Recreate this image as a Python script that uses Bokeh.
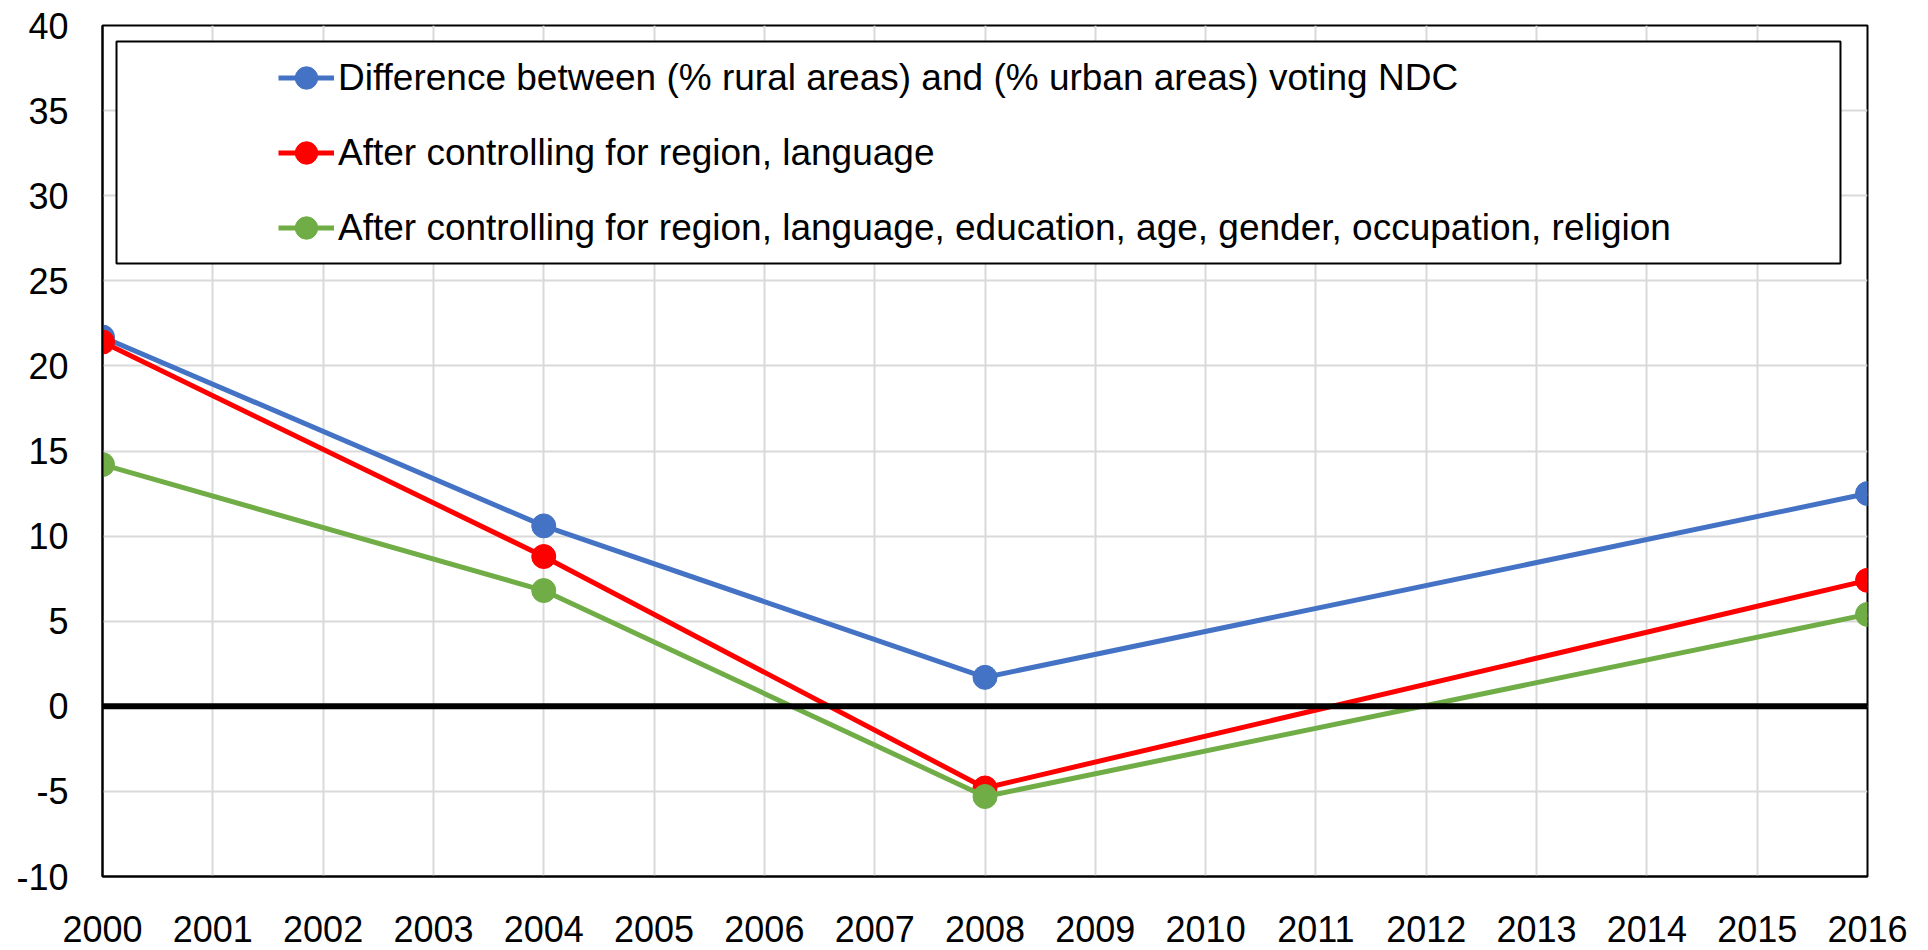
from bokeh.plotting import figure
from bokeh.models import (ColumnDataSource, Span, Legend, LegendItem, BoxAnnotation,
                          FixedTicker, Range1d, CustomJSTickFormatter)
from bokeh.embed import file_html
from bokeh.resources import INLINE

years = [2000, 2004, 2008, 2016]
rural_urban_diff = [21.7, 10.6, 1.7, 12.5]
ctrl_region_lang = [21.4, 8.8, -4.8, 7.4]
ctrl_full = [14.2, 6.8, -5.3, 5.4]

series_names = [
    "Difference between (% rural areas) and (% urban areas) voting NDC",
    "After controlling for region, language",
    "After controlling for region, language, education, age, gender, occupation, religion",
]
series_colors = ["#4472C4", "#FF0000", "#70AD47"]
x_ticks = list(range(2000, 2017))
y_ticks = list(range(-10, 45, 5))

FONT = "Liberation Sans"

p = figure(width=1912, height=950, output_backend="svg", toolbar_location=None,
           x_range=Range1d(2000, 2016), y_range=Range1d(-10, 40))
p.min_border_left = 102
p.min_border_right = 45
p.min_border_top = 25
p.min_border_bottom = 74
p.background_fill_color = "white"
p.border_fill_color = "white"
p.outline_line_color = "black"
p.outline_line_width = 2

for ax in (p.xaxis[0], p.yaxis[0]):
    ax.axis_line_color = "black"
    ax.axis_line_width = 2
    ax.major_tick_line_color = None
    ax.minor_tick_line_color = None
    ax.major_label_text_font = FONT
    ax.major_label_text_font_size = "36px"
    ax.major_label_text_color = "black"
    ax.formatter = CustomJSTickFormatter(code="return tick.toFixed(0);")

p.xaxis.ticker = FixedTicker(ticks=x_ticks)
p.yaxis.ticker = FixedTicker(ticks=y_ticks)
p.xaxis.major_label_standoff = 33
p.yaxis.major_label_standoff = 28

p.xgrid.ticker = FixedTicker(ticks=x_ticks)
p.ygrid.ticker = FixedTicker(ticks=y_ticks)
for g in (p.xgrid[0], p.ygrid[0]):
    g.grid_line_color = "#D9D9D9"
    g.grid_line_width = 2

p.add_layout(Span(location=0, dimension="width", line_color="black", line_width=6))

items = []
for vals, name, col in zip([rural_urban_diff, ctrl_region_lang, ctrl_full], series_names, series_colors):
    src = ColumnDataSource(dict(x=years, y=vals))
    l = p.line("x", "y", source=src, line_color=col, line_width=5)
    s = p.scatter("x", "y", source=src, size=24, fill_color=col, line_color=col)
    items.append(LegendItem(label=name, renderers=[l, s]))

p.add_layout(BoxAnnotation(left=2000.127, right=2015.755, top=39.06, bottom=26.02,
                           fill_color="white", fill_alpha=1.0,
                           line_color="black", line_alpha=1.0, line_width=2,
                           level="annotation"))

legend = Legend(items=items, location=(176, 611), orientation="vertical",
                glyph_width=56, glyph_height=75, spacing=0, padding=0, margin=0,
                label_standoff=4, label_text_font=FONT, label_text_font_size="37px",
                label_text_color="black", background_fill_alpha=0, border_line_alpha=0)
p.add_layout(legend)

open("out.html", "w").write(file_html(p, INLINE))
